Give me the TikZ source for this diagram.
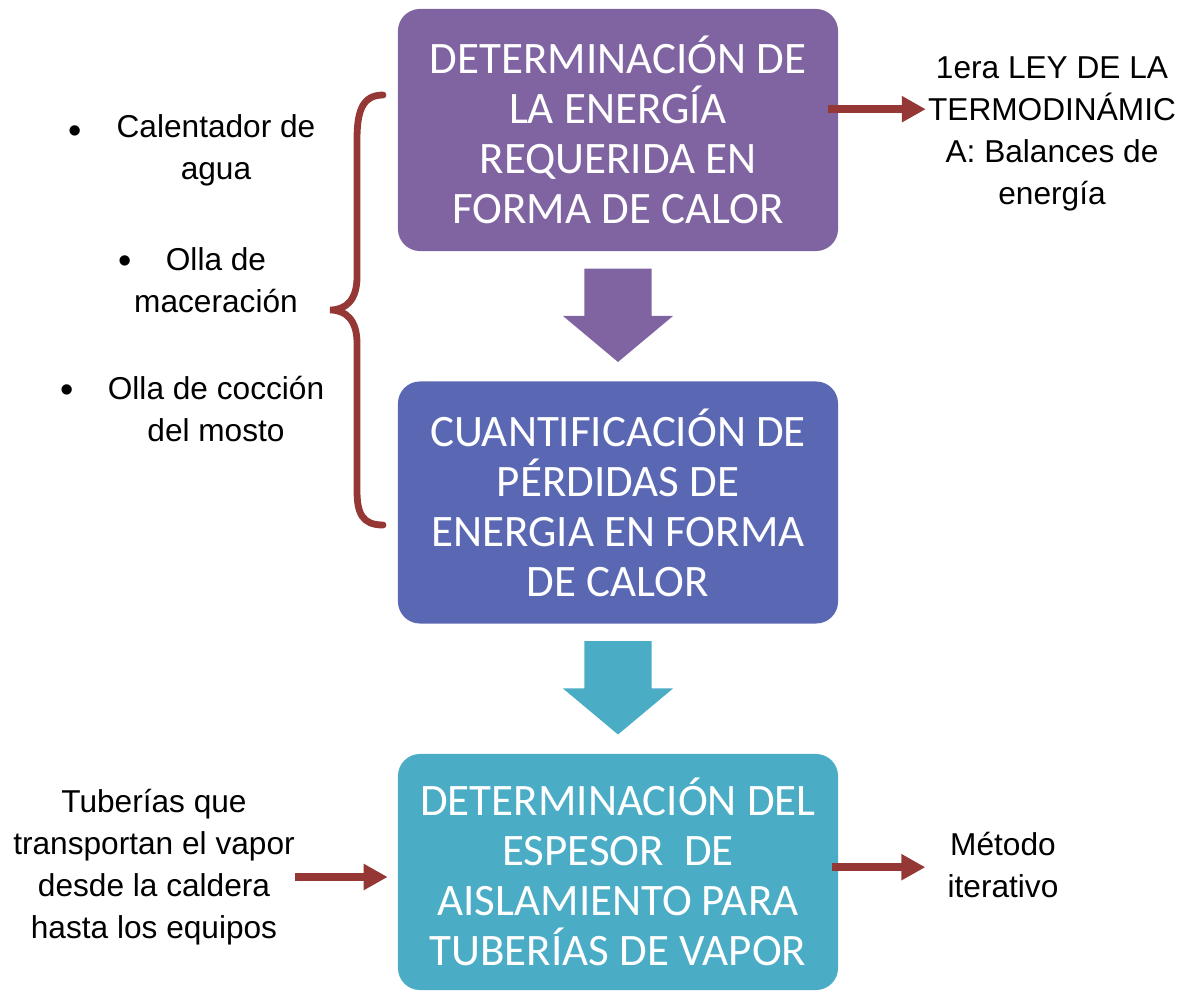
\documentclass[tikz,border=0pt]{standalone}
\usepackage{fontspec}
\setmainfont{Liberation Sans}
\newfontfamily\boxfont{Carlito}
\usetikzlibrary{arrows.meta}

\definecolor{morado}{HTML}{8064A2}
\definecolor{indigo}{HTML}{5A68B4}
\definecolor{turquesa}{HTML}{4BACC6}
\definecolor{vino}{HTML}{953735}

% block arrow between two boxes: color, upper box, lower box
\newcommand{\Bloque}[3]{%
  \fill[#1] ([shift={(-0.84cm,-0.43cm)}]#2.south) -- ([shift={(0.84cm,-0.43cm)}]#2.south)
    -- ([shift={(0.84cm,1.63cm)}]#3.north) -- ([shift={(1.375cm,1.63cm)}]#3.north)
    -- ([yshift=0.48cm]#3.north) -- ([shift={(-1.375cm,1.63cm)}]#3.north)
    -- ([shift={(-0.84cm,1.63cm)}]#3.north) -- cycle;}

\begin{document}
\begin{tikzpicture}[x=0.025cm,y=-0.025cm]

\tikzset{
  Caja/.style = { rectangle, rounded corners=0.55cm, minimum width=11cm,
                  minimum height=6.05cm, align=center, text=white, inner sep=0pt,
                  font = \boxfont\fontsize{32}{35.5}\selectfont },
  Texto/.style = { align=center, inner sep=0pt,
                   font = \fontsize{22.5}{30}\selectfont },
  Punto/.style = { inner sep=0pt, font = \fontsize{27}{30}\selectfont },
  Flecha/.style = { draw=vino, line width=0.2cm,
                    -{Triangle[length=0.6cm,width=0.62cm]} } }

  \useasboundingbox (0,0) rectangle (1193,992);

  \node[Caja,fill=morado] (c1) at (618,130)
    {DETERMINACIÓN DE\\LA ENERGÍA\\REQUERIDA EN\\FORMA DE CALOR};
  \node[Caja,fill=indigo] (c2) at (618,502.5)
    {CUANTIFICACIÓN DE\\PÉRDIDAS DE\\ENERGIA EN FORMA\\DE CALOR};
  \node[Caja,fill=turquesa,minimum height=5.9cm] (c3) at (618,872)
    {DETERMINACIÓN DEL\\ESPESOR\ \ DE\\AISLAMIENTO PARA\\TUBERÍAS DE VAPOR};

  \Bloque{morado}{c1}{c2}
  \Bloque{turquesa}{c2}{c3}

  % equipos
  \node[Texto] (cal) at (216,150) {Calentador de\\agua};
  \node[Texto] (mac) at (216,280) {Olla de\\maceración};
  \node[Texto] (coc) at (216,409) {Olla de cocción\\del mosto};
  \node[Punto] (p1) at (75,135) {\textbullet};
  \node[Punto] (p2) at (125,265) {\textbullet};
  \node[Punto] (p3) at (67,394) {\textbullet};

  \draw[vino, line width=0.17cm, line cap=round]
    (383,95) .. controls (362,95) and (357,112) .. (357,140) -- (357,277)
    .. controls (357,300) and (346,310) .. (330,310)
    .. controls (346,310) and (357,320) .. (357,343) -- (357,490)
    .. controls (357,513) and (362,525) .. (383,525);

  \node[Texto] (ley) at (1052,134)
    {1era LEY DE LA\\TERMODINÁMIC\\A: Balances de\\energía};
  \node[Texto] (met) at (1003,865) {Método\\iterativo};
  \node[Texto] (tub) at (154,867)
    {Tuberías que\\transportan el vapor\\desde la caldera\\hasta los equipos};

  \coordinate (l1) at ([shift={(-0.25cm,0.52cm)}]c1.east);
  \coordinate (m1) at ([shift={(-0.15cm,0.12cm)}]c3.east);
  \coordinate (t1) at ([yshift=-0.25cm]tub.east);

  \draw[Flecha, shorten >=0.05cm] (l1) -- (l1 -| ley.west);
  \draw[Flecha, shorten >=0.55cm] (m1) -- (m1 -| met.west);
  \draw[Flecha, shorten >=0.25cm] (t1) -- (t1 -| c3.west);

\end{tikzpicture}
\end{document}
